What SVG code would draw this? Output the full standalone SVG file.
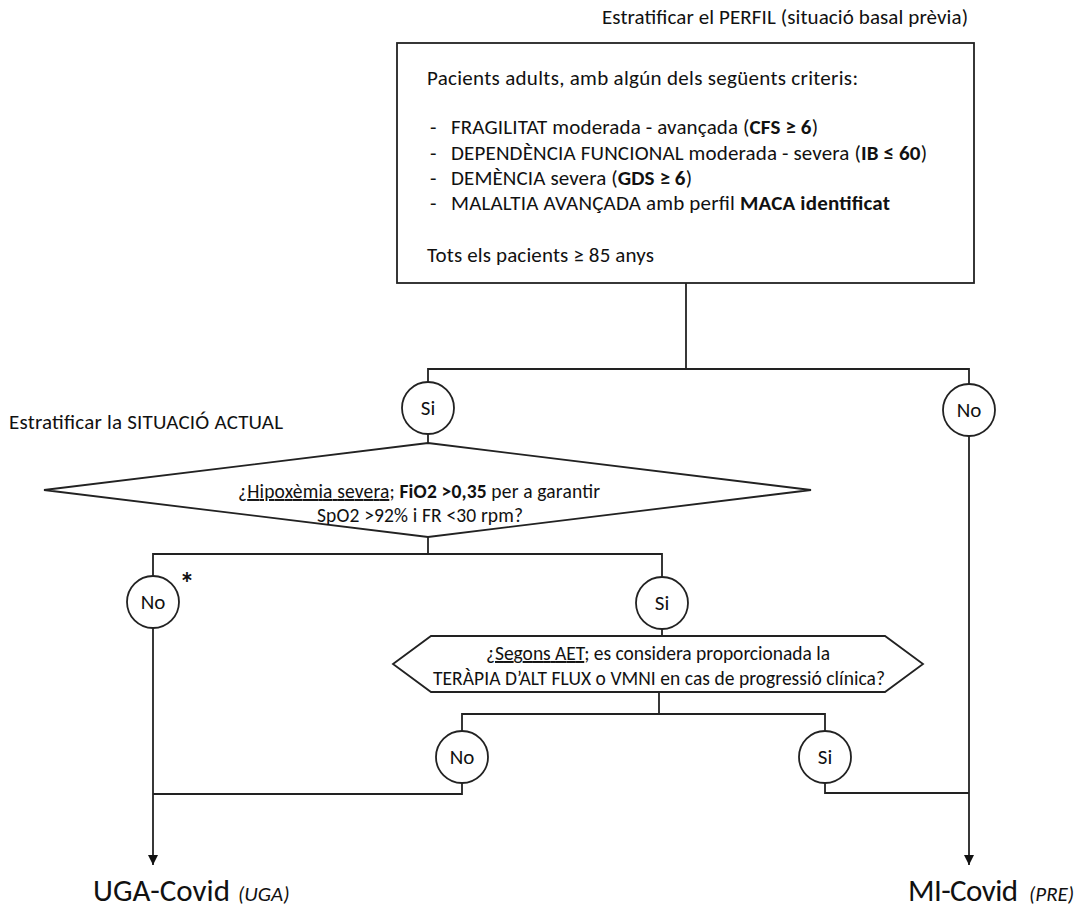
<svg xmlns="http://www.w3.org/2000/svg" width="1079" height="907" viewBox="0 0 1079 907">
<defs>
<marker id="arr" viewBox="0 0 10 10" refX="10" refY="5" markerWidth="11" markerHeight="10" markerUnits="userSpaceOnUse" orient="auto"><path d="M0,0 L10,5 L0,10 z" fill="#111"/></marker>
</defs>
<style>
text{font-family:Carlito,Lato,"Liberation Sans",sans-serif;fill:#111}
.t{font-size:21px}
.s{font-size:19.5px}
.c{font-size:21px;text-anchor:middle}
.m{text-anchor:middle}
.b{font-weight:bold}
.u{text-decoration:underline}
.i{font-style:italic;font-size:21px}
.big{font-size:31px}
.ln{fill:none;stroke:#222;stroke-width:1.8}
.sh{fill:#fff;stroke:#222;stroke-width:1.8}
</style>
<rect width="1079" height="907" fill="#fff"/>

<text id="title-perfil" class="t" x="602" y="24" textLength="366">Estratificar el PERFIL (situació basal prèvia)</text>
<text id="title-actual" class="t" x="9" y="429" textLength="274">Estratificar la SITUACIÓ ACTUAL</text>

<g id="connectors">
<path class="ln" d="M686,283 V369"/>
<path class="ln" d="M428,382 V369 H969 V384"/>
<path class="ln" d="M428,434 V443"/>
<path class="ln" d="M969,436 V865" marker-end="url(#arr)"/>
<path class="ln" d="M428,537 V554"/>
<path class="ln" d="M153,576 V554 H662 V577"/>
<path class="ln" d="M153,628 V865" marker-end="url(#arr)"/>
<path class="ln" d="M662,629 V636"/>
<path class="ln" d="M659,692 V714"/>
<path class="ln" d="M462,731 V714 H825 V731"/>
<path class="ln" d="M462,783 V794 H153"/>
<path class="ln" d="M825,783 V793 H969"/>
</g>

<g id="node-perfil">
<rect class="sh" x="397" y="43" width="577" height="240"/>
<text class="t" x="427" y="85" textLength="431">Pacients adults, amb algún dels següents criteris:</text>
<text class="t" x="430" y="134">-</text>
<text class="t" x="451" y="134" textLength="367">FRAGILITAT moderada - avançada (<tspan class="b">CFS ≥ 6</tspan>)</text>
<text class="t" x="430" y="160">-</text>
<text class="t" x="451" y="160" textLength="476">DEPENDÈNCIA FUNCIONAL moderada - severa (<tspan class="b">IB ≤ 60</tspan>)</text>
<text class="t" x="430" y="185">-</text>
<text class="t" x="451" y="185" textLength="241">DEMÈNCIA severa (<tspan class="b">GDS ≥ 6</tspan>)</text>
<text class="t" x="430" y="210">-</text>
<text class="t" x="451" y="210" textLength="439">MALALTIA AVANÇADA amb perfil <tspan class="b">MACA identificat</tspan></text>
<text class="t" x="427" y="262" textLength="227">Tots els pacients ≥ 85 anys</text>
</g>

<g id="node-si-1">
<circle class="sh" cx="428" cy="408" r="26"/>
<text class="c" x="428" y="415">Si</text>
</g>

<g id="node-no-1">
<circle class="sh" cx="969" cy="410" r="26"/>
<text class="c" x="969" y="417">No</text>
</g>

<g id="node-hipoxemia">
<polygon class="sh" points="428,443 811,490 428,537 44,490"/>
<text class="s m" x="419" y="498" textLength="362">¿<tspan class="u">Hipoxèmia severa</tspan>; <tspan class="b">FiO2 &gt;0,35</tspan> per a garantir</text>
<text class="s m" x="420" y="522" textLength="206">SpO2 &gt;92% i FR &lt;30 rpm?</text>
</g>

<g id="node-no-2">
<circle class="sh" cx="153" cy="602" r="26"/>
<text class="c" x="153" y="609">No</text>
<text class="b" x="187" y="593" font-size="30" text-anchor="middle">*</text>
</g>

<g id="node-si-2">
<circle class="sh" cx="662" cy="603" r="26"/>
<text class="c" x="662" y="610">Si</text>
</g>

<g id="node-aet">
<polygon class="sh" points="393,664 431,636 885,636 923,664 885,692 431,692"/>
<text class="s m" x="658" y="660" textLength="344">¿<tspan class="u">Segons AET</tspan>; es considera proporcionada la</text>
<text class="s m" x="659" y="685" textLength="452">TERÀPIA D’ALT FLUX o VMNI en cas de progressió clínica?</text>
</g>

<g id="node-no-3">
<circle class="sh" cx="462" cy="757" r="26"/>
<text class="c" x="462" y="764">No</text>
</g>

<g id="node-si-3">
<circle class="sh" cx="825" cy="757" r="26"/>
<text class="c" x="825" y="764">Si</text>
</g>

<g id="node-uga">
<text class="big" x="93" y="901" textLength="137">UGA-Covid</text>
<text class="i" x="238" y="901">(UGA)</text>
</g>

<g id="node-mi">
<text class="big" x="908" y="901" textLength="110">MI-Covid</text>
<text class="i" x="1029" y="901">(PRE)</text>
</g>
</svg>
